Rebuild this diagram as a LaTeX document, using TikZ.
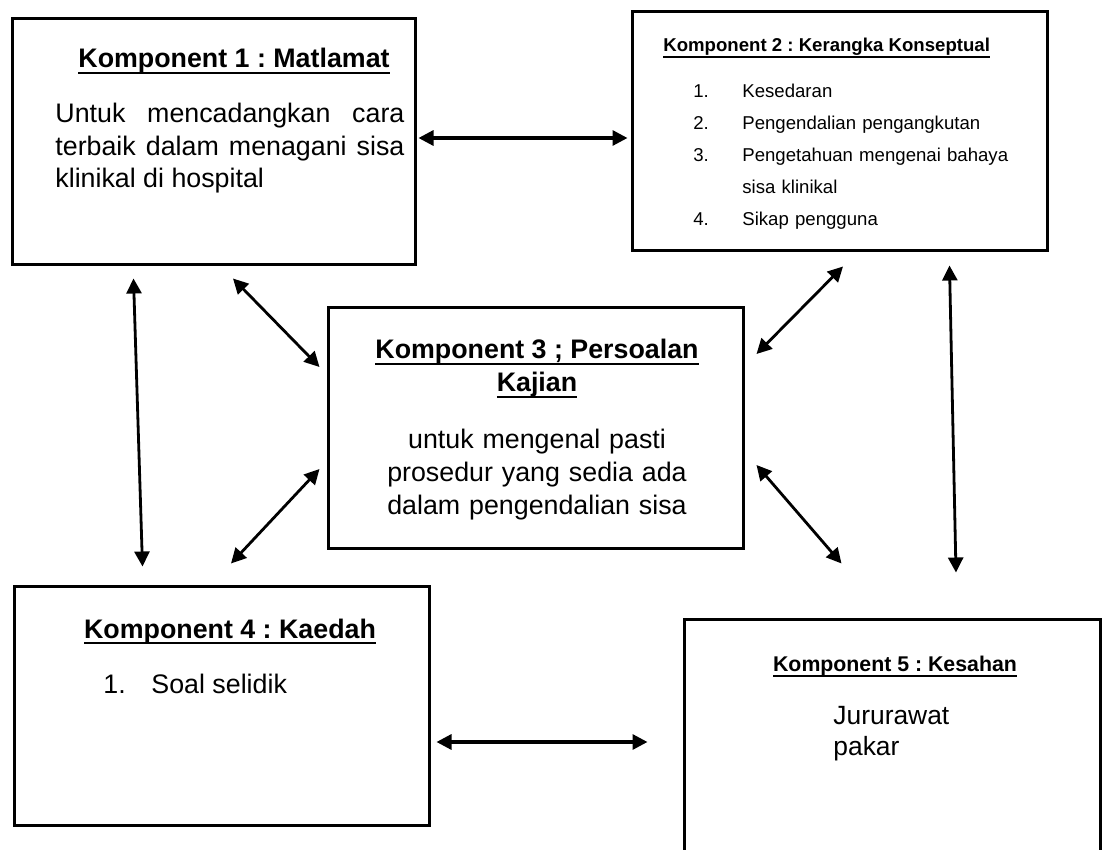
\documentclass[tikz,border=0pt]{standalone}
\usepackage{fontspec}
\setmainfont{Liberation Sans}
\frenchspacing
\newsavebox{\garisbox}
\newcommand{\garis}[1]{\sbox{\garisbox}{#1}\leavevmode\rlap{\rule[-2.9pt]{\wd\garisbox}{0.9pt}}\usebox{\garisbox}}
\usetikzlibrary{arrows.meta}
\tikzset{
  komponen/.style={draw, line width=1.5pt, inner sep=0pt},
  biarrow/.style={{Triangle[length=7.5pt,width=7.5pt]}-{Triangle[length=7.5pt,width=7.5pt]}, line width=1.4pt},
  tajuk/.style={inner sep=0pt, font=\fontsize{13.4}{16.5}\selectfont\bfseries},
  teks/.style={inner sep=0pt, font=\fontsize{13.4}{16.25}\selectfont},
  tekskecil/.style={inner sep=0pt, font=\fontsize{9.3}{16}\selectfont},
}
\begin{document}
\begin{tikzpicture}[x=0.5pt,y=-0.5pt]
\useasboundingbox (0,0) rectangle (1104,850);
\clip (0,0) rectangle (1104,850);
\node[komponen, minimum width=201.5pt, minimum height=123pt] (matlamat) at (213.5,142) {};
\node[komponen, minimum width=207.5pt, minimum height=119.5pt] (kerangka) at (839.5,131.5) {};
\node[komponen, minimum width=207.5pt, minimum height=120pt] (persoalan) at (535.5,428) {};
\node[komponen, minimum width=207.5pt, minimum height=119.5pt] (kaedah) at (221.5,705.5) {};
\node[komponen, minimum width=208pt, minimum height=140.5pt] (kesahan) at (892,759.5) {};

\node[tajuk, anchor=base] (tajuk1) at (234,68) {\garis{Komponent 1 : Matlamat}};
\node[teks, anchor=base west, text width=174.5pt, align=justify] (isi1) at (55,123)
  {Untuk mencadangkan cara\linebreak terbaik dalam menagani sisa\linebreak klinikal di hospital};

\node[tekskecil, font=\fontsize{9.3}{16}\selectfont\bfseries, anchor=base west] (tajuk2) at (663,52)
  {\garis{Komponent 2 : Kerangka Konseptual}};
\node[tekskecil, anchor=base west, text width=170pt, align=left] (isi2) at (693,98)
  {\makebox[24.5pt][l]{1.}Kesedaran\\
   \makebox[24.5pt][l]{2.}Pengendalian pengangkutan\\
   \makebox[24.5pt][l]{3.}Pengetahuan mengenai bahaya\\
   \hspace*{24.5pt}sisa klinikal\\
   \makebox[24.5pt][l]{4.}Sikap pengguna};

\node[tajuk, anchor=base] (tajuk3) at (537,359) {\garis{Komponent 3 ; Persoalan}};
\node[tajuk, anchor=base] (tajuk3b) at (537,392) {\garis{Kajian}};
\node[teks, anchor=base, text width=200pt, align=center] (isi3) at (537,449)
  {untuk mengenal pasti\\ prosedur yang sedia ada\\ dalam pengendalian sisa};

\node[tajuk, anchor=base] (tajuk4) at (230,638) {\garis{Komponent 4 : Kaedah}};
\node[teks, anchor=base west] (isi4) at (103,693) {\makebox[24pt][l]{1.}Soal selidik};

\node[inner sep=0pt, font=\fontsize{10.65}{13}\selectfont\bfseries, anchor=base] (tajuk5) at (895,671)
  {\garis{Komponent 5 : Kesahan}};
\node[teks, font=\fontsize{13.2}{15.5}\selectfont, anchor=base west, text width=80pt, align=left] (isi5) at (833,724)
  {Jururawat\\ pakar};

\draw[biarrow, line width=1.6pt] ([shift={(2,-4)}]matlamat.east) -- ([shift={(-3,6.5)}]kerangka.west);
\draw[biarrow] ([shift={(123,12)}]matlamat.south west) -- ([shift={(130,-18)}]kaedah.north west);
\draw[biarrow] ([shift={(19.5,12)}]matlamat.south) -- ([shift={(-7,-61)}]persoalan.west);
\draw[biarrow] ([shift={(-7,41)}]persoalan.west) -- ([shift={(9.5,-21)}]kaedah.north);
\draw[biarrow] ([shift={(3.5,14)}]kerangka.south) -- ([shift={(12,-74)}]persoalan.east);
\draw[biarrow] ([shift={(12,37)}]persoalan.east) -- ([shift={(159,-54)}]kesahan.north west);
\draw[biarrow] ([shift={(-99,13)}]kerangka.south east) -- ([shift={(64,-45)}]kesahan.north);
\draw[biarrow, line width=1.6pt] ([shift={(6,36.5)}]kaedah.east) -- ([shift={(-35,-17.5)}]kesahan.west);
\end{tikzpicture}
\end{document}
